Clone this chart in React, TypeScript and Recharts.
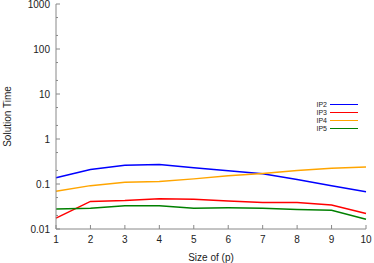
import { LineChart, Line, XAxis, YAxis, Legend } from 'recharts';

const sizes = [1, 2, 3, 4, 5, 6, 7, 8, 9, 10];
const ip2 = [0.137, 0.21, 0.26, 0.27, 0.23, 0.198, 0.168, 0.126, 0.091, 0.067];
const ip3 = [0.0175, 0.041, 0.043, 0.047, 0.046, 0.042, 0.039, 0.039, 0.034, 0.022];
const ip4 = [0.069, 0.092, 0.11, 0.114, 0.13, 0.152, 0.171, 0.2, 0.225, 0.24];
const ip5 = [0.028, 0.029, 0.033, 0.033, 0.029, 0.0295, 0.029, 0.027, 0.026, 0.0165];

const yMajor = [0.01, 0.1, 1, 10, 100, 1000];
const yMinor = [0.02, 0.05, 0.2, 0.5, 2, 5, 20, 50, 200, 500];
const yTicks = [...yMajor, ...yMinor].sort((a, b) => a - b);

const series = [
  { key: 'IP2', values: ip2, color: '#0000ff' },
  { key: 'IP3', values: ip3, color: '#ff0000' },
  { key: 'IP4', values: ip4, color: '#ffa500' },
  { key: 'IP5', values: ip5, color: '#008000' },
];

const data = sizes.map((x, i) => {
  const row: Record<string, number> = { x };
  series.forEach((s) => { row[s.key] = s.values[i]; });
  return row;
});

const FONT = '"Liberation Sans", Arial, sans-serif';
const TICK = '#888';

const isMajor = (v: number) => yMajor.includes(v);

function LeftTick({ x, y, payload }: any) {
  const major = isMajor(payload.value);
  return (
    <g>
      <line x1={x} x2={x + (major ? 4 : 2)} y1={y} y2={y} stroke={TICK} />
      {major && <text x={x - 6} y={y} dy="0.35em" textAnchor="end" fontSize={10} fontFamily={FONT} fill="#222">{payload.value}</text>}
    </g>
  );
}

function RightTick({ x, y, payload }: any) {
  const major = isMajor(payload.value);
  return <line x1={x} x2={x - (major ? 4 : 2)} y1={y} y2={y} stroke={TICK} />;
}

function BottomTick({ x, y, payload }: any) {
  return (
    <g>
      <line x1={x} x2={x} y1={y} y2={y - 4} stroke={TICK} />
      <text x={x} y={y + 14} textAnchor="middle" fontSize={10} fontFamily={FONT} fill="#222">{payload.value}</text>
    </g>
  );
}

function TopTick({ x, y }: any) {
  return <line x1={x} x2={x} y1={y} y2={y + 4} stroke={TICK} />;
}

function LegendBox() {
  return (
    <div style={{ fontFamily: FONT, fontSize: 7, color: '#222' }}>
      {series.map((s) => (
        <div key={s.key} style={{ display: 'flex', alignItems: 'center', justifyContent: 'flex-end', height: 8 }}>
          <span>{s.key}</span>
          <span style={{ display: 'inline-block', width: 28, height: 1.5, background: s.color, marginLeft: 3 }} />
        </div>
      ))}
    </div>
  );
}

export default function App() {
  return (
    <div style={{ position: 'absolute', left: 0, top: 0, background: '#fff' }}>
      <LineChart width={374} height={263} data={data} margin={{ top: 4, right: 8, bottom: 0, left: 0 }}>
        <XAxis
          dataKey="x" type="number" domain={[1, 10]} ticks={sizes} interval={0}
          height={34} tickSize={0} tickMargin={0} tick={<BottomTick />}
          axisLine={{ stroke: '#888' }}
          label={{ value: 'Size of (p)', position: 'insideBottom', offset: 2, style: { fontSize: 10, fontFamily: FONT, fill: '#222' } }}
        />
        <XAxis
          xAxisId="top" orientation="top" dataKey="x" type="number" domain={[1, 10]} ticks={sizes} interval={0}
          height={0} tickSize={0} tickMargin={0} tick={<TopTick />} axisLine={{ stroke: '#333' }}
        />
        <YAxis
          type="number" scale="log" domain={[0.01, 1000]} allowDataOverflow ticks={yTicks} interval={0}
          width={56} tickSize={0} tickMargin={0} tick={<LeftTick />} axisLine={{ stroke: '#888' }}
          label={{ value: 'Solution Time', angle: -90, position: 'insideLeft', offset: 7, style: { textAnchor: 'middle', fontSize: 10, fontFamily: FONT, fill: '#222' } }}
        />
        <YAxis
          yAxisId="right" orientation="right" type="number" scale="log" domain={[0.01, 1000]} allowDataOverflow
          ticks={yTicks} interval={0} width={0} tickSize={0} tickMargin={0} tick={<RightTick />}
          axisLine={{ stroke: '#999', strokeWidth: 1.5 }}
        />
        <Legend
          layout="vertical" align="center" verticalAlign="middle" content={<LegendBox />}
          wrapperStyle={{ left: 300, top: 100.5, width: 58 }}
        />
        {series.map((s) => (
          <Line key={s.key} dataKey={s.key} stroke={s.color} strokeWidth={1.5} dot={false} isAnimationActive={false} />
        ))}
      </LineChart>
    </div>
  );
}
